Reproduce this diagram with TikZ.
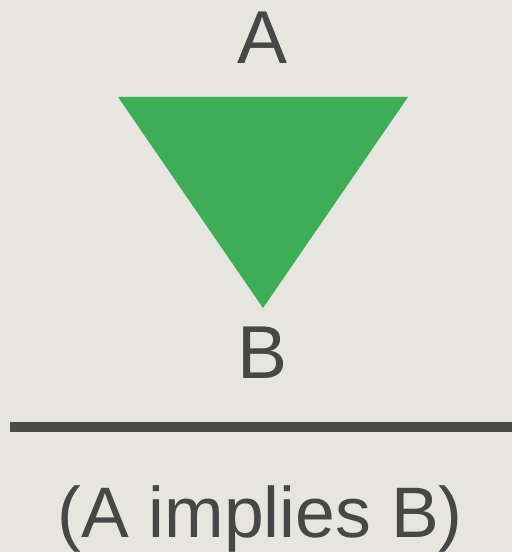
\documentclass[tikz,border=0pt]{standalone}
\usepackage{fontspec}
\setmainfont{Liberation Sans}
\definecolor{bgcol}{HTML}{E6E5E0}
\definecolor{txtcol}{HTML}{474747}
\definecolor{trigreen}{HTML}{3EAE56}
\definecolor{barcol}{HTML}{4A4A48}
\tikzset{
  lbl/.style={anchor=base, inner sep=0pt, text=txtcol, font=\fontsize{75}{80}\selectfont},
  captext/.style={anchor=base, inner sep=0pt, text=txtcol, font=\fontsize{71.5}{76}\selectfont},
}
\begin{document}
\begin{tikzpicture}[x=1pt,y=1pt]
  \fill[bgcol] (0,0) rectangle (512,552);
  \useasboundingbox (0,0) rectangle (512,552);
  \coordinate (t1) at (118,455);
  \coordinate (t2) at (408,455);
  \coordinate (t3) at (263,244);
  \fill[trigreen] (t1) -- (t2) -- (t3) -- cycle;
  \node[lbl] (A) at (263,488) {A};
  \node[lbl] (B) at (263,173) {B};
  \coordinate (l1) at (10,125);
  \coordinate (l2) at (512,125);
  \draw[barcol, line width=10pt] (l1) -- (l2);
  \node[captext] (C) at (260,15) {(A implies B)};
\end{tikzpicture}
\end{document}
